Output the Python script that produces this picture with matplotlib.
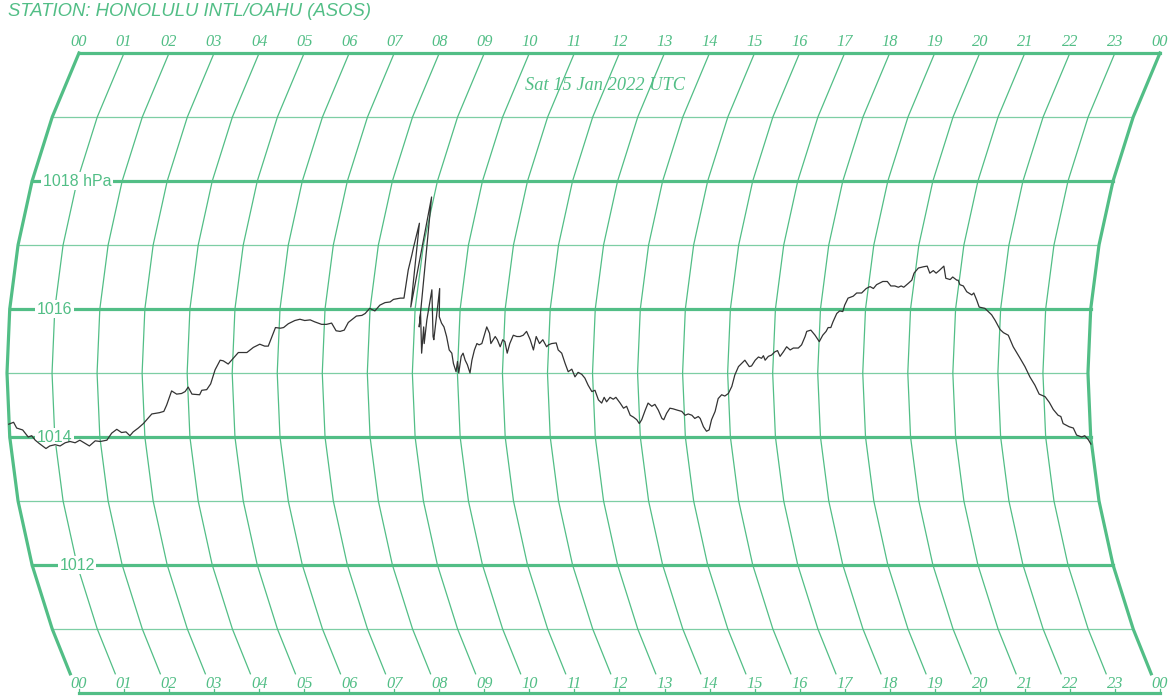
"""
Barograph trace: Honolulu station pressure, 15 Jan 2022 (UTC), on a curved chart.
"""
import numpy as np
import matplotlib
matplotlib.use("Agg")
import matplotlib.pyplot as plt

GREEN = "#52be86"
TRACE = "#333333"

STATION = "STATION: HONOLULU INTL/OAHU (ASOS)"
DATE_LABEL = "Sat 15 Jan 2022 UTC"
hour_ticks = list(range(25))
hour_labels = [f"{h % 24:02d}" for h in hour_ticks]
grid_levels = list(range(1011, 1021))
labelled_levels = [1018, 1016, 1014, 1012]
labelled_text = ["1018 hPa", "1016", "1014", "1012"]

# pressure trace (UTC hours, hPa)
hours = [
    0.00, 0.11, 0.17, 0.30, 0.41, 0.49, 0.56, 0.64, 0.78, 0.87, 0.99, 1.10, 1.22, 1.33,
    1.44, 1.55, 1.66, 1.75, 1.89, 2.00, 2.15, 2.27, 2.39, 2.49, 2.59, 2.67, 2.75, 2.87,
    2.99, 3.19, 3.36, 3.46, 3.53, 3.65, 3.76, 3.87, 3.95, 4.02, 4.10, 4.27, 4.32, 4.43,
    4.52, 4.62, 4.73, 4.80, 4.91, 5.02, 5.13, 5.32, 5.46, 5.60, 5.71, 5.79, 5.84, 5.93,
    6.04, 6.11, 6.21, 6.35, 6.46, 6.57, 6.69, 6.79, 6.95, 7.06, 7.17, 7.28, 7.37, 7.46,
    7.54, 7.64, 7.71, 7.83, 7.90, 7.99, 8.11, 8.21, 8.32, 8.43, 8.50, 8.65,
    8.73, 8.75, 8.78, 8.79, 8.82, 8.90, 8.96,
    9.12, 9.13, 9.20, 9.22, 9.25, 9.28, 9.33, 9.44, 9.46, 9.50, 9.55, 9.61, 9.67, 9.74,
    9.81, 9.87, 9.91, 9.97, 10.00, 10.03, 10.08, 10.12, 10.17, 10.22, 10.28, 10.32, 10.37,
    10.42, 10.47, 10.53, 10.57, 10.62, 10.69, 10.73, 10.82, 10.87, 10.94, 10.99, 11.04,
    11.10, 11.15, 11.22, 11.30, 11.37, 11.44, 11.51, 11.60, 11.68, 11.73, 11.81, 11.88,
    11.97, 12.01, 12.08, 12.18, 12.23, 12.31, 12.39, 12.46, 12.54, 12.61, 12.68, 12.76,
    12.83, 12.90, 12.98, 13.05, 13.12, 13.19, 13.25, 13.30, 13.38, 13.45, 13.51, 13.60,
    13.67, 13.74, 13.81, 13.88, 13.95, 14.00, 14.06, 14.15, 14.22, 14.30, 14.37, 14.44,
    14.51, 14.55, 14.62, 14.70, 14.77, 14.86, 14.96, 15.03, 15.10, 15.18, 15.24, 15.32,
    15.36, 15.42, 15.48, 15.54, 15.61, 15.70, 15.78, 15.86, 15.93, 16.01, 16.09, 16.16,
    16.24, 16.31, 16.38, 16.42, 16.48, 16.53, 16.61, 16.68, 16.75, 16.79, 16.83, 16.90,
    16.97, 17.04, 17.10, 17.16, 17.23, 17.30, 17.38, 17.45, 17.56, 17.63, 17.70, 17.73,
    17.82, 17.92, 18.02, 18.09, 18.16, 18.20, 18.26, 18.30, 18.37, 18.43, 18.50, 18.53,
    18.59, 18.70, 18.77, 18.88, 18.97, 19.05, 19.13, 19.19, 19.32, 19.42, 19.51, 19.60,
    19.68, 19.74, 19.80, 19.89, 19.96, 19.99, 20.07, 20.18, 20.26, 20.34, 20.41, 20.48,
    20.54, 20.63, 20.71, 20.81, 20.86, 20.96, 20.99, 21.04, 21.12, 21.21, 21.33, 21.37,
    21.45, 21.52, 21.65, 21.73, 21.81, 21.90, 22.02, 22.10, 22.21, 22.33, 22.49, 22.60,
    22.71, 22.82, 22.91, 23.04, 23.13, 23.21, 23.31, 23.37, 23.41, 23.54, 23.63, 23.69,
    23.80, 23.87, 23.94, 23.99,
]
pressure = [
    1014.20, 1014.23, 1014.14, 1014.11, 1014.00, 1014.02, 1013.95, 1013.90, 1013.82,
    1013.86, 1013.88, 1013.86, 1013.91, 1013.93, 1013.91, 1013.95, 1013.90, 1013.86,
    1013.94, 1013.93, 1013.95, 1014.06, 1014.12, 1014.07, 1014.08, 1014.02, 1014.08,
    1014.14, 1014.21, 1014.36, 1014.38, 1014.40, 1014.50, 1014.72, 1014.67, 1014.68,
    1014.71, 1014.78, 1014.67, 1014.66, 1014.73, 1014.74, 1014.83, 1015.05, 1015.20,
    1015.19, 1015.14, 1015.23, 1015.32, 1015.32, 1015.40, 1015.45, 1015.42, 1015.42,
    1015.52, 1015.71, 1015.70, 1015.71, 1015.77, 1015.82, 1015.84, 1015.82, 1015.83,
    1015.80, 1015.76, 1015.76, 1015.78, 1015.66, 1015.65, 1015.67, 1015.79, 1015.85,
    1015.89, 1015.90, 1015.93, 1016.01, 1015.97, 1016.06, 1016.10, 1016.11, 1016.15,
    1016.17,
    1016.17, 1016.61, 1016.84, 1016.97, 1017.34, 1016.03, 1017.75,
    1015.72, 1015.93, 1015.31, 1015.72, 1015.46, 1015.83, 1016.30, 1015.57, 1015.52,
    1016.32, 1015.88, 1015.78, 1015.72, 1015.57, 1015.36, 1015.31, 1015.15, 1015.02,
    1015.18, 1015.00, 1015.26, 1015.31, 1015.20, 1015.13, 1015.00, 1015.20, 1015.36,
    1015.46, 1015.44, 1015.46, 1015.57, 1015.72, 1015.62, 1015.46, 1015.57, 1015.52,
    1015.41, 1015.52, 1015.49, 1015.31, 1015.46, 1015.59, 1015.57, 1015.57, 1015.59,
    1015.65, 1015.52, 1015.36, 1015.57, 1015.46, 1015.52, 1015.41, 1015.44, 1015.46,
    1015.47, 1015.36, 1015.31, 1015.15, 1015.02, 1015.06, 1014.94, 1015.01, 1014.98,
    1014.92, 1014.81, 1014.71, 1014.73, 1014.58, 1014.53, 1014.62, 1014.55, 1014.62,
    1014.59, 1014.62, 1014.53, 1014.45, 1014.48, 1014.34, 1014.31, 1014.27, 1014.21,
    1014.27, 1014.42, 1014.53, 1014.48, 1014.51, 1014.42, 1014.29, 1014.27, 1014.37,
    1014.45, 1014.44, 1014.42, 1014.40, 1014.34, 1014.36, 1014.34, 1014.29, 1014.32,
    1014.29, 1014.16, 1014.09, 1014.11, 1014.27, 1014.40, 1014.60, 1014.66, 1014.64,
    1014.68, 1014.79, 1014.97, 1015.10, 1015.15, 1015.20, 1015.16, 1015.10, 1015.11,
    1015.20, 1015.25, 1015.23, 1015.27, 1015.20, 1015.26, 1015.28, 1015.33, 1015.35,
    1015.26, 1015.33, 1015.41, 1015.36, 1015.39, 1015.39, 1015.44, 1015.57, 1015.65,
    1015.67, 1015.59, 1015.49, 1015.59, 1015.65, 1015.71, 1015.71, 1015.80, 1015.93,
    1015.97, 1015.96, 1016.06, 1016.17, 1016.20, 1016.25, 1016.25, 1016.32, 1016.35,
    1016.32, 1016.38, 1016.43, 1016.43, 1016.36, 1016.36, 1016.34, 1016.36, 1016.34,
    1016.40, 1016.45, 1016.56, 1016.64, 1016.66, 1016.67, 1016.56, 1016.60, 1016.56,
    1016.60, 1016.67, 1016.48, 1016.46, 1016.50, 1016.45, 1016.45, 1016.38, 1016.36,
    1016.27, 1016.22, 1016.25, 1016.14, 1016.03, 1016.01, 1015.96, 1015.91, 1015.82,
    1015.68, 1015.63, 1015.59, 1015.41, 1015.23, 1015.10, 1014.94, 1014.81, 1014.67,
    1014.63, 1014.54, 1014.43, 1014.34, 1014.32, 1014.21, 1014.16, 1014.14, 1014.03,
    1014.00, 1014.02, 1013.96, 1013.89,
]

# chart geometry on the 1174x698 canvas
PX_PER_HOUR = 45.04
PX_PER_HPA = 64.0
ARC_RADIUS = 747.0
ARC_BULGE = 72.0
P_MID = 1015.0
P_TOP = 1020.0
P_ARC_END = 1010.3
P_BOTTOM = 1010.0


def skew(p):
    """Horizontal shift (in hours) of the curved time lines at pressure p."""
    d = (np.asarray(p, dtype=float) - P_MID) * PX_PER_HPA
    return (ARC_RADIUS - ARC_BULGE - np.sqrt(ARC_RADIUS ** 2 - d ** 2)) / PX_PER_HOUR


fig = plt.figure(figsize=(11.74, 6.98), dpi=100)
ax = fig.add_axes([0, 0, 1, 1])
ax.set_xlim(-79 / PX_PER_HOUR, (1174 - 79) / PX_PER_HOUR)
ax.set_ylim(P_TOP - 645 / PX_PER_HPA, P_TOP + 53 / PX_PER_HPA)
ax.axis("off")

thick, thin = 2.3, 0.9

# curved hour lines (segments between whole-hPa levels)
arc_levels = np.array(list(range(1020, 1010, -1)) + [P_ARC_END], dtype=float)
for h in hour_ticks:
    lw = thick if h in (0, 24) else thin
    ax.plot(h + skew(arc_levels), arc_levels, color=GREEN, lw=lw,
            solid_joinstyle="miter", zorder=2)

# pressure lines between the first and last hour lines
for p in grid_levels:
    lw = thick if p % 2 == 0 else thin
    alpha = 1.0 if p % 2 == 0 else 0.75
    ax.plot([0 + skew(p), 24 + skew(p)], [p, p], color=GREEN, lw=lw,
            alpha=alpha, zorder=2)

# bottom time axis with small hour ticks
ax.plot([0, 24], [P_BOTTOM, P_BOTTOM], color=GREEN, lw=thick, zorder=2)
for h in hour_ticks:
    ax.plot([h, h], [P_BOTTOM, P_BOTTOM + 0.07], color=GREEN, lw=thin, zorder=2)

# hour labels, top and bottom
hour_font = dict(family="Liberation Serif", style="italic", size=11.8, color=GREEN)
for h, lab in zip(hour_ticks, hour_labels):
    ax.text(h, P_TOP + 0.17, lab, ha="center", va="center", **hour_font)
    ax.text(h, P_BOTTOM + 0.14, lab, ha="center", va="center", **hour_font)

ax.text(12 + skew(1019.5), 1019.5, DATE_LABEL, ha="center", va="center",
        family="Liberation Serif", style="italic", size=13.2, color=GREEN)

# pressure labels sit on the 01 hour line
for p, lab in zip(labelled_levels, labelled_text):
    ax.text(1 + skew(p), p, lab, ha="center", va="center",
            family="Liberation Sans", size=11.5, color=GREEN, zorder=3,
            bbox=dict(facecolor="white", edgecolor="none", pad=1.2))

# pressure trace
t = np.asarray(hours)
pr = np.asarray(pressure)
ax.plot(t + skew(pr), pr, color=TRACE, lw=0.9, zorder=4)

fig.text(8 / 1174, 1 - 12 / 698, STATION, ha="left", va="center",
         family="Liberation Sans", style="italic", size=13.3, color=GREEN)

fig.savefig("out.png", dpi=100)
